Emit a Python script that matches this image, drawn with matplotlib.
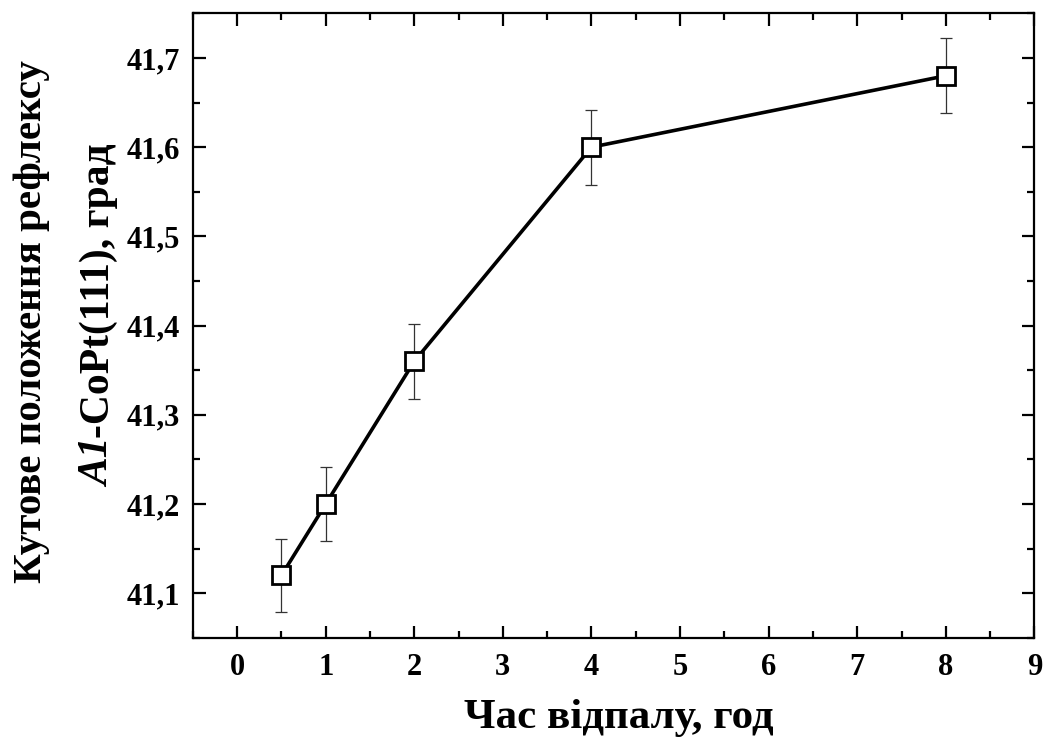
import matplotlib
matplotlib.use("Agg")
import matplotlib.pyplot as plt
from matplotlib.ticker import MultipleLocator, FuncFormatter

# ── Data ────────────────────────────────────────────────────────────────────
anneal_time = [0.5, 1, 2, 4, 8]                       # год
peak_pos    = [41.12, 41.20, 41.36, 41.60, 41.68]     # град
peak_err    = [0.041, 0.041, 0.042, 0.042, 0.042]

XLABEL   = "Час відпалу, год"
YLABEL1  = "Кутове положення рефлексу"
YLABEL2A = "A1"
YLABEL2B = "-CoPt(111), град"

# ── Style ───────────────────────────────────────────────────────────────────
plt.rcParams["font.family"] = ["Liberation Serif", "DejaVu Serif"]

fig = plt.figure(figsize=(10.48, 7.4), dpi=100)
ax = fig.add_axes([0.184, 0.138, 0.803, 0.844])

ax.errorbar(anneal_time, peak_pos, yerr=peak_err, fmt="none",
            ecolor="#333333", elinewidth=0.9, capsize=4, capthick=0.9, zorder=2)
ax.plot(anneal_time, peak_pos, color="black", linewidth=2.6,
        marker="s", markersize=12.5, markerfacecolor="white",
        markeredgecolor="black", markeredgewidth=2.0, zorder=3)

ax.set_xlim(-0.5, 9.0)
ax.set_ylim(41.05, 41.75)
ax.xaxis.set_major_locator(MultipleLocator(1))
ax.xaxis.set_minor_locator(MultipleLocator(0.5))
ax.yaxis.set_major_locator(MultipleLocator(0.1))
ax.yaxis.set_minor_locator(MultipleLocator(0.05))
ax.yaxis.set_major_formatter(FuncFormatter(lambda v, _: f"{v:.1f}".replace(".", ",")))

for s in ax.spines.values():
    s.set_linewidth(1.6)
ax.tick_params(which="both", direction="in", top=True, right=True, width=1.6)
ax.tick_params(which="major", length=9, labelsize=22)
ax.tick_params(which="minor", length=5)
ax.tick_params(axis="y", pad=9)
ax.tick_params(axis="x", pad=11)
for lbl in ax.get_xticklabels() + ax.get_yticklabels():
    lbl.set_fontweight("bold")

fig.text(0.59, 0.03, XLABEL, ha="center", va="center",
         fontsize=31, fontweight="bold")
fig.text(0.030, 0.565, YLABEL1, ha="center", va="center", rotation=90,
         fontsize=29.5, fontweight="bold")

# second y-label line: italic "A1" followed by upright text, laid along x = const
x2 = 0.104
kw = dict(rotation=90, rotation_mode="anchor", ha="left", va="baseline",
          fontsize=30, fontweight="bold")
ta = fig.text(x2, 0.0, YLABEL2A, style="italic", **kw)
tb = fig.text(x2, 0.0, YLABEL2B, **kw)
renderer = fig.canvas.get_renderer()
ha_ = ta.get_window_extent(renderer).height / fig.bbox.height
hb_ = tb.get_window_extent(renderer).height / fig.bbox.height
y_start = 0.574 - (ha_ + hb_) / 2
ta.set_y(y_start)
tb.set_y(y_start + ha_)

plt.savefig("out.png", dpi=100)
plt.close()
